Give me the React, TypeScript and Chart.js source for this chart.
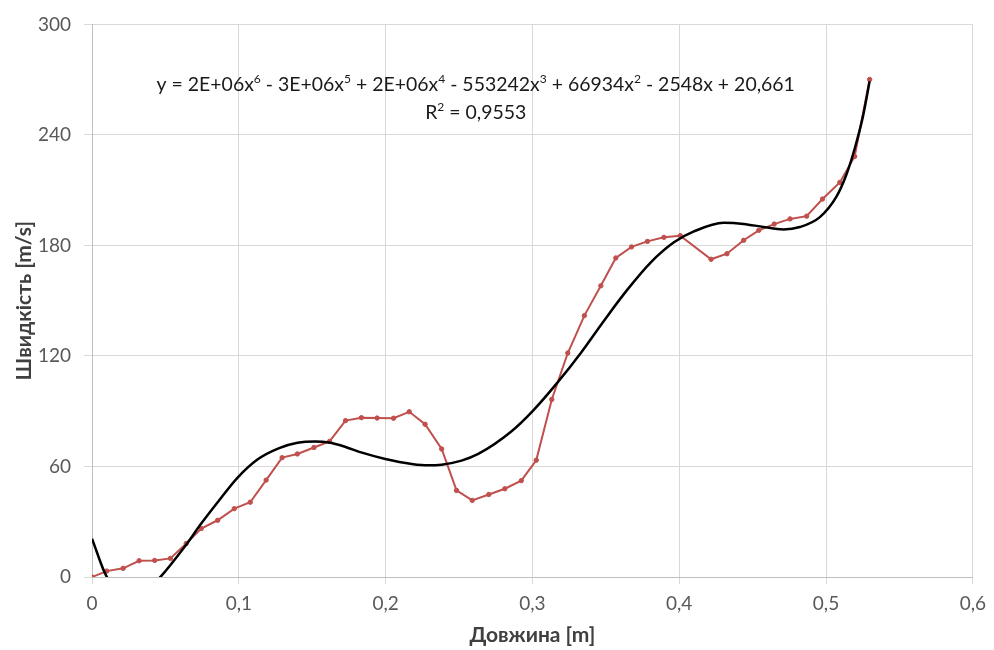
import React, { useEffect, useRef } from 'react';
import { Chart, registerables } from 'chart.js';

Chart.register(...registerables);

// Measured series (Довжина [m] vs Швидкість [m/s])
const measuredX = [
  0, 0.01, 0.0212, 0.0321, 0.0427, 0.0534, 0.0642, 0.0744, 0.0856, 0.0969,
  0.1078, 0.1186, 0.1295, 0.1399, 0.1512, 0.1618, 0.1727, 0.1835, 0.1942, 0.2054,
  0.2161, 0.2269, 0.2382, 0.2483, 0.259, 0.2703, 0.2812, 0.2924, 0.3026, 0.3132,
  0.3241, 0.3354, 0.3466, 0.3568, 0.3675, 0.3783, 0.3896, 0.4007, 0.4217, 0.4325,
  0.4439, 0.4542, 0.4647, 0.4755, 0.4868, 0.4976, 0.5094, 0.5195, 0.5297,
];
const measuredY = [
  0, 3.2, 4.7, 8.8, 9.0, 10.1, 18.2, 26.3, 30.8, 37.1,
  40.6, 52.6, 64.8, 66.8, 70.3, 73.6, 84.9, 86.5, 86.3, 86.2,
  89.7, 82.9, 69.5, 47.0, 41.6, 44.8, 47.9, 52.3, 63.4, 96.4,
  121.6, 141.9, 158.1, 173.2, 179.2, 182.2, 184.4, 185.3, 172.5, 175.5,
  182.8, 188.2, 191.6, 194.4, 195.9, 205.2, 214.2, 228.3, 270.1,
];

// Polynomial trend line
const trendX = [
  0, 0.01, 0.02, 0.03, 0.04, 0.0468, 0.0631, 0.0744, 0.0856, 0.0992,
  0.1127, 0.1275, 0.14, 0.152, 0.1614, 0.1727, 0.1839, 0.1998, 0.2178, 0.2292,
  0.2382, 0.2517, 0.2631, 0.2856, 0.3003, 0.3173, 0.3331, 0.3489, 0.3647, 0.3805,
  0.3964, 0.41, 0.4303, 0.4439, 0.4574, 0.471, 0.4822, 0.4958, 0.5071, 0.5139,
  0.5195, 0.5252, 0.5297,
];
const trendY = [
  20.8, 0.2, -7, -9, -5, 0.2, 16.4, 29.0, 40.6, 54.0,
  63.8, 70.0, 72.9, 73.6, 73.0, 70.6, 67.5, 64.1, 61.4, 60.6,
  61.0, 63.2, 66.8, 79.0, 90.2, 105.8, 121.8, 139.3, 156.0, 170.7,
  181.7, 187.6, 192.3, 191.7, 190.0, 188.7, 190.0, 195.4, 206.5, 218.5,
  232.5, 250.2, 269.1,
];

const xMin = 0;
const xMax = 0.6;
const xStep = 0.1;
const yMin = 0;
const yMax = 300;
const yStep = 60;

const xTitle = 'Довжина [m]';
const yTitle = 'Швидкість [m/s]';

type Seg = { t: string; sup?: boolean };
const equationSegs: Seg[] = [
  { t: 'y = 2E+06x' }, { t: '6', sup: true },
  { t: ' - 3E+06x' }, { t: '5', sup: true },
  { t: ' + 2E+06x' }, { t: '4', sup: true },
  { t: ' - 553242x' }, { t: '3', sup: true },
  { t: ' + 66934x' }, { t: '2', sup: true },
  { t: ' - 2548x + 20,661' },
];
const r2Segs: Seg[] = [{ t: 'R' }, { t: '2', sup: true }, { t: ' = 0,9553' }];

// annotation anchor (data coordinates) and target width of the equation line
const labelAnchorX = 0.2614;
const equationAnchorY = 267;
const r2AnchorY = 252;
const equationWidthPx = 639;

const FONT = 'Lato, "Open Sans", sans-serif';

const fmtX = (v: number) => (v === 0 ? '0' : Number(v).toFixed(1).replace('.', ','));

const annotationPlugin = {
  id: 'trendAnnotation',
  afterDatasetsDraw(chart: any) {
    const { ctx, scales } = chart;
    const cx = scales.x.getPixelForValue(labelAnchorX);
    const measure = (segs: Seg[], size: number) => {
      let total = 0;
      for (const s of segs) {
        ctx.font = `${s.sup ? size * 0.62 : size}px ${FONT}`;
        total += ctx.measureText(s.t).width;
      }
      return total;
    };
    ctx.save();
    const base = 16;
    const size = base * equationWidthPx / measure(equationSegs, base);
    const drawLine = (segs: Seg[], cy: number) => {
      const total = measure(segs, size);
      let x = cx - total / 2;
      ctx.fillStyle = '#1a1a1a';
      ctx.textBaseline = 'middle';
      ctx.textAlign = 'left';
      for (const s of segs) {
        ctx.font = `${s.sup ? size * 0.62 : size}px ${FONT}`;
        ctx.fillText(s.t, x, s.sup ? cy - size * 0.3 : cy);
        x += ctx.measureText(s.t).width;
      }
    };
    drawLine(equationSegs, scales.y.getPixelForValue(equationAnchorY));
    drawLine(r2Segs, scales.y.getPixelForValue(r2AnchorY));
    ctx.restore();
  },
};

export default function App() {
  const ref = useRef<HTMLCanvasElement | null>(null);

  useEffect(() => {
    document.body.style.margin = '0';
    if (!ref.current) return;
    const measured = measuredX.map((x, i) => ({ x, y: measuredY[i] }));
    const trend = trendX.map((x, i) => ({ x, y: trendY[i] }));
    const chart = new Chart(ref.current, {
      type: 'scatter',
      data: {
        datasets: [
          {
            label: 'trend',
            data: trend,
            showLine: true,
            borderColor: '#000000',
            borderWidth: 2.5,
            pointRadius: 0,
            tension: 0.4,
            cubicInterpolationMode: 'monotone',
            order: 1,
          },
          {
            label: 'measured',
            data: measured,
            showLine: true,
            borderColor: '#c0504d',
            backgroundColor: '#c0504d',
            borderWidth: 2,
            pointRadius: 2.2,
            pointBorderWidth: 1,
            tension: 0,
            order: 2,
          },
        ],
      },
      options: {
        animation: false,
        responsive: false,
        maintainAspectRatio: false,
        layout: { padding: { top: 20, right: 17, left: 0, bottom: 0 } },
        plugins: {
          legend: { display: false },
          tooltip: { enabled: false },
        },
        scales: {
          x: {
            type: 'linear',
            min: xMin,
            max: xMax,
            afterFit: (s: any) => { s.height = 73; },
            ticks: {
              stepSize: xStep,
              color: '#595959',
              font: { family: FONT, size: 19 },
              padding: 8,
              callback: (v: any) => fmtX(Number(v)),
            },
            grid: { color: '#d9d9d9', lineWidth: 1, tickLength: 7 },
            border: { color: '#bfbfbf' },
            title: {
              display: true,
              text: xTitle,
              color: '#404040',
              font: { family: FONT, size: 21, weight: 'bold' },
              padding: { top: 0, bottom: 2 },
            },
          },
          y: {
            type: 'linear',
            min: yMin,
            max: yMax,
            afterFit: (s: any) => { s.width = 92; },
            ticks: {
              stepSize: yStep,
              color: '#595959',
              font: { family: FONT, size: 19 },
              padding: 13,
            },
            grid: { color: '#d9d9d9', lineWidth: 1, tickLength: 8 },
            border: { color: '#bfbfbf' },
            title: {
              display: true,
              text: yTitle,
              color: '#404040',
              font: { family: FONT, size: 21, weight: 'bold' },
              padding: { top: 12, bottom: 0 },
            },
          },
        },
      },
      plugins: [annotationPlugin],
    } as any);
    return () => chart.destroy();
  }, []);

  return (
    <div style={{ position: 'absolute', left: 0, top: 0, width: 994, height: 650 }}>
      <canvas ref={ref} width={994} height={650} style={{ width: 994, height: 650, display: 'block' }} />
    </div>
  );
}
